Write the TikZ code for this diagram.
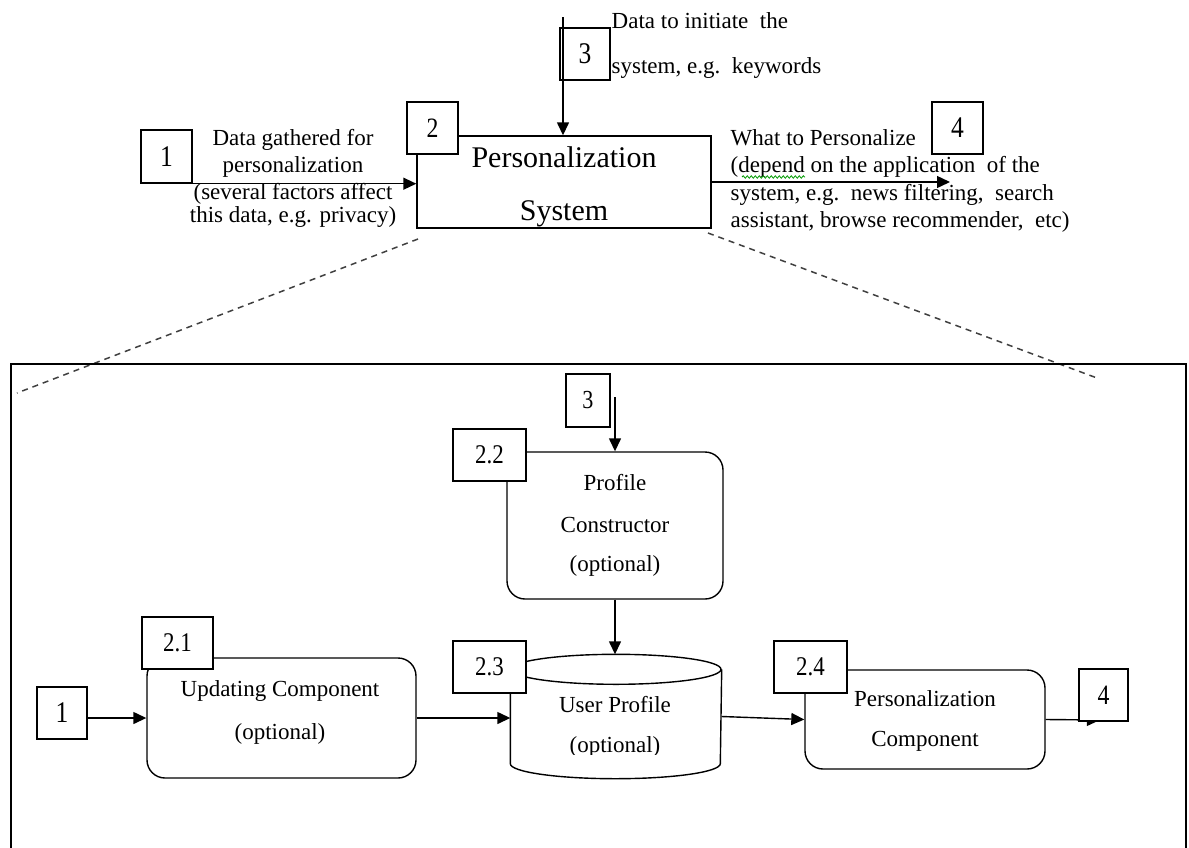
\documentclass[tikz,border=0pt]{standalone}
\usepackage{fontspec}
\setmainfont{Liberation Serif}
\newfontfamily\numfont[FakeStretch=0.85]{Liberation Serif}
\usetikzlibrary{arrows.meta,decorations.pathmorphing}

\begin{document}
\begin{tikzpicture}[x=1pt,y=-1pt,
  line width=1.4pt,
  box/.style={draw, fill=white, inner sep=0pt},
  numbox/.style={box, font=\numfont\fontsize{30}{30}\selectfont},
  subnum/.style={box, font=\numfont\fontsize{27}{27}\selectfont},
  proc/.style={draw, rounded corners=18pt, inner sep=0pt},
  txt/.style={inner sep=0pt, anchor=base, font=\fontsize{23}{27}\selectfont},
  ltxt/.style={txt, anchor=base west},
  bigtxt/.style={inner sep=0pt, anchor=base, font=\fontsize{30}{36}\selectfont},
  arr/.style={-{Triangle[length=13pt,width=12pt]}},
  zoomline/.style={dash pattern=on 6pt off 5pt, line width=1.5pt, black!75},
]
\useasboundingbox (0,0) rectangle (1189,847);

% ---------------- overview: the personalization system as a whole
\node[draw, inner sep=0pt, minimum width=294pt, minimum height=92pt] (sys) at (564,182) {};
\node[bigtxt] (sysa) at (564,167) {Personalization};
\node[bigtxt] (sysb) at (564,220) {System};

% input 1
\node[numbox, minimum width=51pt, minimum height=53pt] (t1) at (166.5,156.5) {1};
\draw[arr] (t1.south east) -- (t1.south east -| sys.west);
\node[txt] (in1a) at (293,145) {Data gathered for};
\node[txt] (in1b) at (293,172) {personalization};
\node[txt] (in1c) at (293,199) {(several factors affect};
\node[txt] (in1d) at (293,222) {this data, e.g. privacy)};

% input 3
\coordinate (src3) at (563,17);
\node[draw, inner sep=0pt, minimum width=50pt, minimum height=52pt,
      font=\numfont\fontsize{30}{30}\selectfont] (t3) at (585,54) {3};
\draw[arr] (src3) -- (src3 |- sys.north);
\node[ltxt] (in3a) at (611,28) {Data to initiate\ \ the};
\node[ltxt] (in3b) at (611,73) {system, e.g.\ \ keywords};

% output 4
\coordinate (dst4) at (950,182);
\draw[arr] (sys.east) -- (dst4);
\node[numbox, minimum width=51pt, minimum height=52pt] (t4) at (957.5,128) {4};
\node[ltxt] (out4a) at (730,145) {What to Personalize};
\node[ltxt] (out4b) at (730,172) {(depend on the application\ \ of the};
\node[ltxt] (out4c) at (730,200) {system, e.g.\ \ news filtering,\ \ search};
\node[ltxt] (out4d) at (730,227) {assistant, browse recommender,\ \ etc)};
\coordinate (sq1) at (742,177);
\coordinate (sq2) at (805,177);
\draw[green!60!black, line width=0.8pt, decorate,
      decoration={snake, amplitude=1.2pt, segment length=4pt}] (sq1) -- (sq2);

% label 2 on the system box
\node[numbox, font=\numfont\fontsize{28}{28}\selectfont,
      minimum width=51pt, minimum height=52pt] (t2) at (432.5,128) {2};

% ---------------- zoom into the system
\coordinate (zl1) at (418,239);
\coordinate (zl2) at (17,393);
\coordinate (zr1) at (708,233);
\coordinate (zr2) at (1097,378);
\draw[zoomline] (zl1) -- (zl2);
\draw[zoomline] (zr1) -- (zr2);
\coordinate (fr1) at (11,850);
\coordinate (fr2) at (11,364);
\coordinate (fr3) at (1186,364);
\coordinate (fr4) at (1186,850);
\draw (fr1) -- (fr2) -- (fr3) -- (fr4);

% profile constructor
\node[proc, minimum width=216pt, minimum height=147pt] (pcons) at (615,525.5) {};
\node[txt] (pca) at (615,490) {Profile};
\node[txt] (pcb) at (615,532) {Constructor};
\node[txt] (pcc) at (615,571) {(optional)};
\coordinate (src3b) at (615,397);
\draw[arr] (src3b) -- (pcons.north);
\node[box, font=\numfont\fontsize{26}{26}\selectfont,
      minimum width=44pt, minimum height=53pt] (b3) at (588,400.5) {3};
\node[subnum, minimum width=73pt, minimum height=52pt] (b22) at (489.5,455) {2.2};

% updating component
\node[proc, minimum width=269pt, minimum height=120pt] (upd) at (281.5,718) {};
\node[txt] (upa) at (280,696) {Updating Component};
\node[txt] (upb) at (280,739) {(optional)};
\node[numbox, minimum width=50pt, minimum height=52pt] (b1) at (62,713) {1};
\draw[arr] (b1.east |- upd.west) -- (upd.west);

% user profile store
\node[inner sep=0pt, minimum width=210pt, minimum height=93pt] (cyl) at (616,716.5) {};
\draw (cyl.north west) -- (cyl.south west)
      arc[start angle=180, end angle=360, x radius=105pt, y radius=15pt]
      -- (cyl.north east);
\draw (cyl.north) ellipse[x radius=105pt, y radius=15pt];
\coordinate (cyltop) at ([yshift=15pt]cyl.north);
\node[txt] (upra) at (615,712) {User Profile};
\begin{scope}
  \clip (511,730) rectangle (721,754);
  \node[txt] (uprb) at (615,752) {(optional)};
\end{scope}
\draw[arr] (pcons.south) -- (pcons.south |- cyltop);
\draw[arr] (upd.east) -- (upd.east -| cyl.west);

% personalization component
\node[proc, minimum width=240pt, minimum height=99pt] (pcomp) at (925,719.5) {};
\node[txt] (pma) at (925,706) {Personalization};
\node[txt] (pmb) at (925,746) {Component};
\draw[arr] (cyl.east) -- (pcomp.west);
\coordinate (dst4b) at (1100,720);
\draw[arr] (pcomp.east) -- (dst4b);
\node[numbox, font=\numfont\fontsize{28}{28}\selectfont,
      minimum width=49pt, minimum height=52pt] (b4) at (1103.5,695) {4};

% sub-labels
\node[subnum, minimum width=71pt, minimum height=52pt] (b21) at (177.5,643) {2.1};
\node[subnum, minimum width=73pt, minimum height=52pt] (b23) at (489.5,667) {2.3};
\node[subnum, minimum width=73pt, minimum height=52pt] (b24) at (810.5,667) {2.4};

\end{tikzpicture}
\end{document}
